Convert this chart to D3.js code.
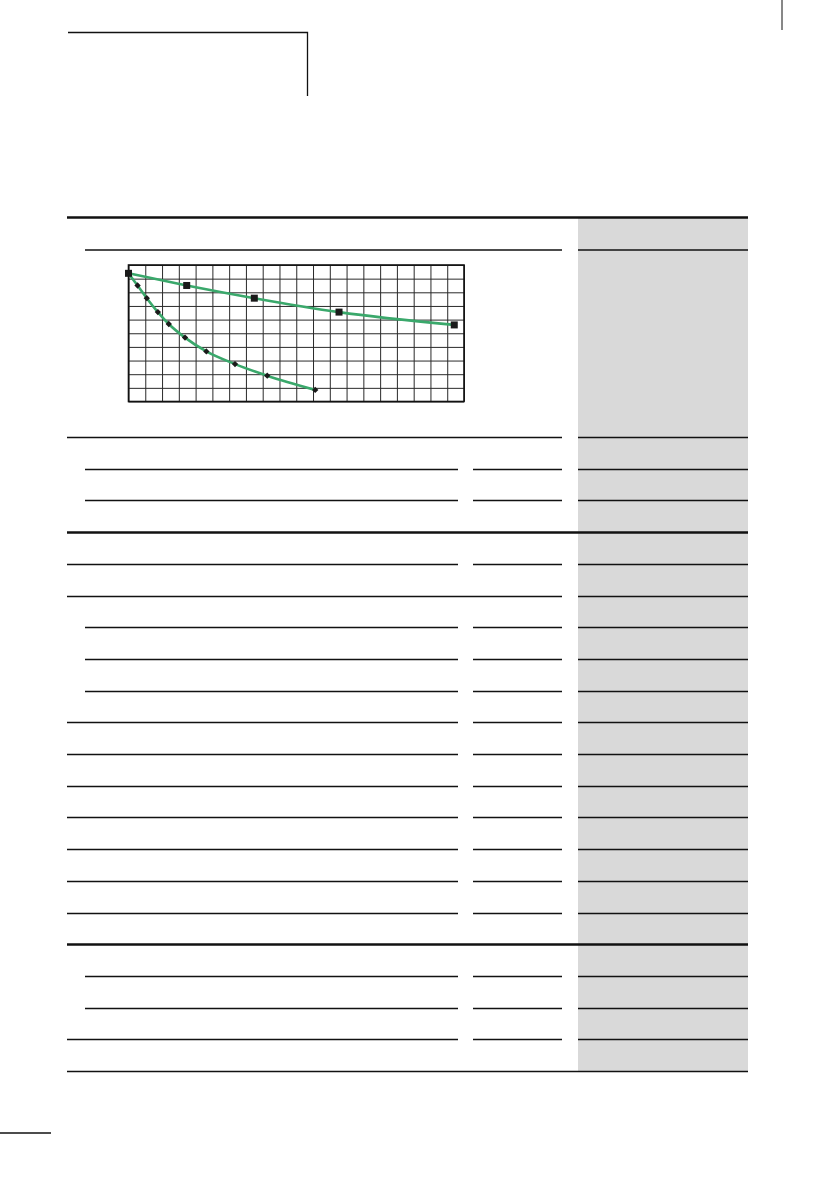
<!DOCTYPE html>
<html lang="en">
<head>
	<meta charset="UTF-8">
	<title>Chart</title>
	<style>
		body { margin: 0; background: #fff; }
	</style>
</head>
<body>
	<svg width="840" height="1190"></svg>
<script src="https://d3js.org/d3.v7.min.js"></script>
<script>
// grid ticks (chart has no labels)
const gridX = d3.range(0, 21);
const gridY = d3.range(0, 11);

// upper curve, square markers
const squareX = [0, 3.47, 7.5, 12.55, 19.42];
const squareY = [9.39, 8.5, 7.57, 6.55, 5.61];

// lower curve, small diamond markers (starts at the first square)
const dotX = [0.54, 1.09, 1.75, 2.4, 3.37, 4.64, 6.35, 8.27, 11.13];
const dotY = [8.5, 7.57, 6.55, 5.68, 4.68, 3.67, 2.74, 1.89, 0.85];

// table rules below the chart, one per row: thick / full / split / sub / bottom
const ruleKinds = ["full", "sub", "sub", "thick", "split", "full", "sub", "sub", "sub",
  "split", "split", "split", "split", "split", "split", "split", "thick", "sub", "sub", "split", "bottom"];

const svg = d3.select("svg");
const ink = "#111";
const green = "#3aa86b";

// page frame bits
svg.append("path").attr("d", "M68,32.5H307.5V96").attr("fill", "none").attr("stroke", ink).attr("stroke-width", 1.3);
svg.append("line").attr("x1", 782).attr("x2", 782).attr("y1", 0).attr("y2", 30).attr("stroke", ink).attr("stroke-width", 1);
svg.append("line").attr("x1", 0).attr("x2", 51).attr("y1", 1133).attr("y2", 1133).attr("stroke", ink).attr("stroke-width", 1.3);

// table columns
const L = 67, S = 85, C1 = 458, C2 = 473, C3 = 562, G1 = 578, G2 = 748;

svg.append("rect").attr("x", G1).attr("y", 218).attr("width", G2 - G1).attr("height", 1071 - 218).attr("fill", "#d9d9d9");

const rowY = d3.scaleLinear().domain([0, 20]).range([437, 1071]);

function hline(x1, x2, y, w) {
  svg.append("line").attr("x1", x1).attr("x2", x2).attr("y1", y).attr("y2", y)
    .attr("stroke", ink).attr("stroke-width", w || 1.3);
}

// header rules
hline(L, G2, 217.5, 2.6);
hline(S, C3, 250);
hline(G1, G2, 250);

ruleKinds.forEach((k, i) => {
  const y = Math.round(rowY(i)) + 0.5;
  if (k === "thick") { hline(L, G2, y, 2.6); return; }
  if (k === "bottom") { hline(L, G2, y); return; }
  if (k === "full") hline(L, C3, y);
  if (k === "split") { hline(L, C1, y); hline(C2, C3, y); }
  if (k === "sub") { hline(S, C1, y); hline(C2, C3, y); }
  hline(G1, G2, y);
});

// chart
const x = d3.scaleLinear().domain([0, 20]).range([128.5, 464]);
const y = d3.scaleLinear().domain([0, 10]).range([401.5, 265]);
const chart = svg.append("g");

chart.append("g").attr("transform", `translate(0,${y(0)})`)
  .call(d3.axisBottom(x).tickValues(gridX).tickSize(-(y(0) - y(10))).tickFormat(""))
  .call(g => g.select(".domain").remove())
  .call(g => g.selectAll("line").attr("stroke", "#2a2a2a").attr("stroke-width", 1));

chart.append("g").attr("transform", `translate(${x(0)},0)`)
  .call(d3.axisLeft(y).tickValues(gridY).tickSize(-(x(20) - x(0))).tickFormat(""))
  .call(g => g.select(".domain").remove())
  .call(g => g.selectAll("line").attr("stroke", "#2a2a2a").attr("stroke-width", 1));

chart.append("rect").attr("x", x(0)).attr("y", y(10)).attr("width", x(20) - x(0)).attr("height", y(0) - y(10))
  .attr("fill", "none").attr("stroke", "#111").attr("stroke-width", 1.6);

const squares = squareX.map((v, i) => [v, squareY[i]]);
const dots = [squares[0]].concat(dotX.map((v, i) => [v, dotY[i]]));

const line = d3.line().x(d => x(d[0])).y(d => y(d[1])).curve(d3.curveMonotoneX);

chart.append("path").attr("d", line(squares)).attr("fill", "none").attr("stroke", green).attr("stroke-width", 2.6);
chart.append("path").attr("d", line(dots)).attr("fill", "none").attr("stroke", green).attr("stroke-width", 2.6);

chart.selectAll(".dot").data(dots.slice(1)).join("path")
  .attr("d", d3.symbol(d3.symbolSquare, 20))
  .attr("transform", d => `translate(${x(d[0])},${y(d[1])}) rotate(45)`)
  .attr("fill", "#1a1a1a");

chart.selectAll(".sq").data(squares).join("rect")
  .attr("x", d => x(d[0]) - 3.5).attr("y", d => y(d[1]) - 3.5)
  .attr("width", 7).attr("height", 7)
  .attr("fill", "#1a1a1a");
</script>
</body>
</html>
